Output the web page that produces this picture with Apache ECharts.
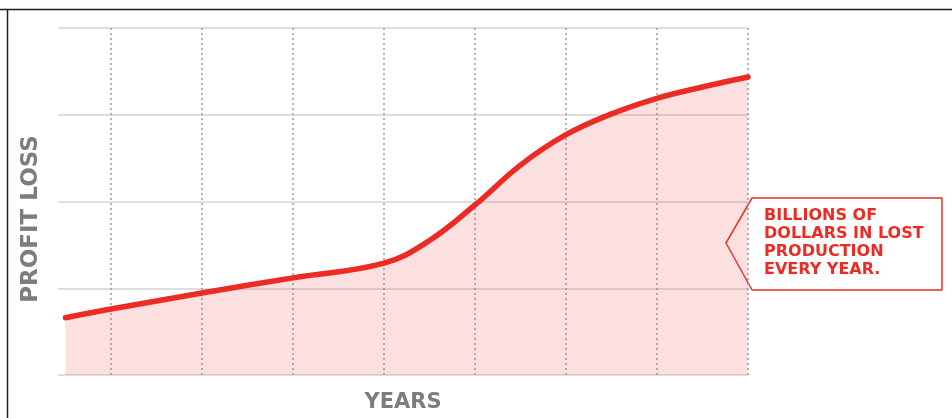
<!DOCTYPE html>
<html>
<head>
<meta charset="utf-8">
<style>
  html, body { margin: 0; padding: 0; background: #fff; }
  #chart { width: 952px; height: 418px; }
</style>
<script src="https://cdn.jsdelivr.net/npm/echarts@6/dist/echarts.min.js"></script>
</head>
<body>
<div id="chart"></div>
<script>
// years along x (0..7 are the dotted gridlines), profit loss on y (0..4)
var years = [-0.5, 0, 1, 2, 3, 3.5, 4, 4.5, 5, 5.5, 6, 6.5, 7];
var profitLoss = [0.66, 0.76, 0.945, 1.12, 1.29, 1.55, 1.96, 2.42, 2.77, 3.01, 3.19, 3.32, 3.435];
var yearLines = [0, 1, 2, 3, 4, 5, 6, 7];
var calloutLines = ['BILLIONS OF', 'DOLLARS IN LOST', 'PRODUCTION', 'EVERY YEAR.'];

var red = '#ec2c24';
var titleFont = 'DejaVu Sans';

var seriesData = [];
for (var i = 0; i < years.length; i++) {
  seriesData.push([years[i], profitLoss[i]]);
}

var option = {
  animation: false,
  grid: { left: 58, right: 204, top: 28, bottom: 43, outerBoundsMode: 'none' },
  xAxis: {
    type: 'value',
    min: -0.582,
    max: 7,
    axisLine: { show: false },
    axisTick: { show: false },
    axisLabel: { show: false },
    splitLine: { show: false },
    name: 'YEARS',
    nameLocation: 'middle',
    nameGap: 17,
    nameTextStyle: {
      color: '#7d7d7f',
      fontSize: 21,
      fontWeight: 'bold',
      fontFamily: titleFont
    }
  },
  yAxis: {
    type: 'value',
    min: 0,
    max: 4,
    interval: 1,
    axisLine: { show: false },
    axisTick: { show: false },
    axisLabel: { show: false },
    splitLine: { lineStyle: { color: '#d3d3d3', width: 1.5 } }
  },
  series: [{
    type: 'line',
    data: seriesData,
    smooth: 0.4,
    showSymbol: false,
    lineStyle: { color: red, width: 5.5, cap: 'round' },
    areaStyle: { color: 'rgba(240, 80, 80, 0.25)' },
    markLine: {
      silent: true,
      symbol: 'none',
      z: 2,
      label: { show: false },
      lineStyle: { color: '#9c9c9c', width: 1.5, type: [2, 3] },
      data: yearLines.map(function (v) { return { xAxis: v }; })
    }
  }],
  graphic: [
    // frame of the original picture
    { type: 'line', shape: { x1: 0, y1: 9.5, x2: 952, y2: 9.5 }, style: { stroke: '#1e1e1e', lineWidth: 1.5 } },
    { type: 'line', shape: { x1: 7.5, y1: 9.5, x2: 7.5, y2: 418 }, style: { stroke: '#1e1e1e', lineWidth: 1.5 } },
    {
      type: 'text',
      x: 31, y: 219,
      rotation: Math.PI / 2,
      style: {
        text: 'PROFIT LOSS',
        fill: '#7d7d7f',
        font: 'bold 23px "' + titleFont + '"',
        align: 'center',
        verticalAlign: 'middle'
      }
    },
    {
      type: 'polygon',
      shape: { points: [[752, 198], [942, 198], [942, 290], [752, 290], [726, 243]] },
      style: { fill: '#fff', stroke: red, lineWidth: 1.5, lineJoin: 'round' }
    },
    {
      type: 'text',
      x: 764, y: 207,
      style: {
        text: calloutLines.join('\n'),
        fill: red,
        font: 'bold 16px "' + titleFont + '"',
        lineHeight: 18,
        align: 'left',
        verticalAlign: 'top'
      }
    }
  ]
};

var chart = echarts.init(document.getElementById('chart'));
chart.setOption(option);
</script>
</body>
</html>
